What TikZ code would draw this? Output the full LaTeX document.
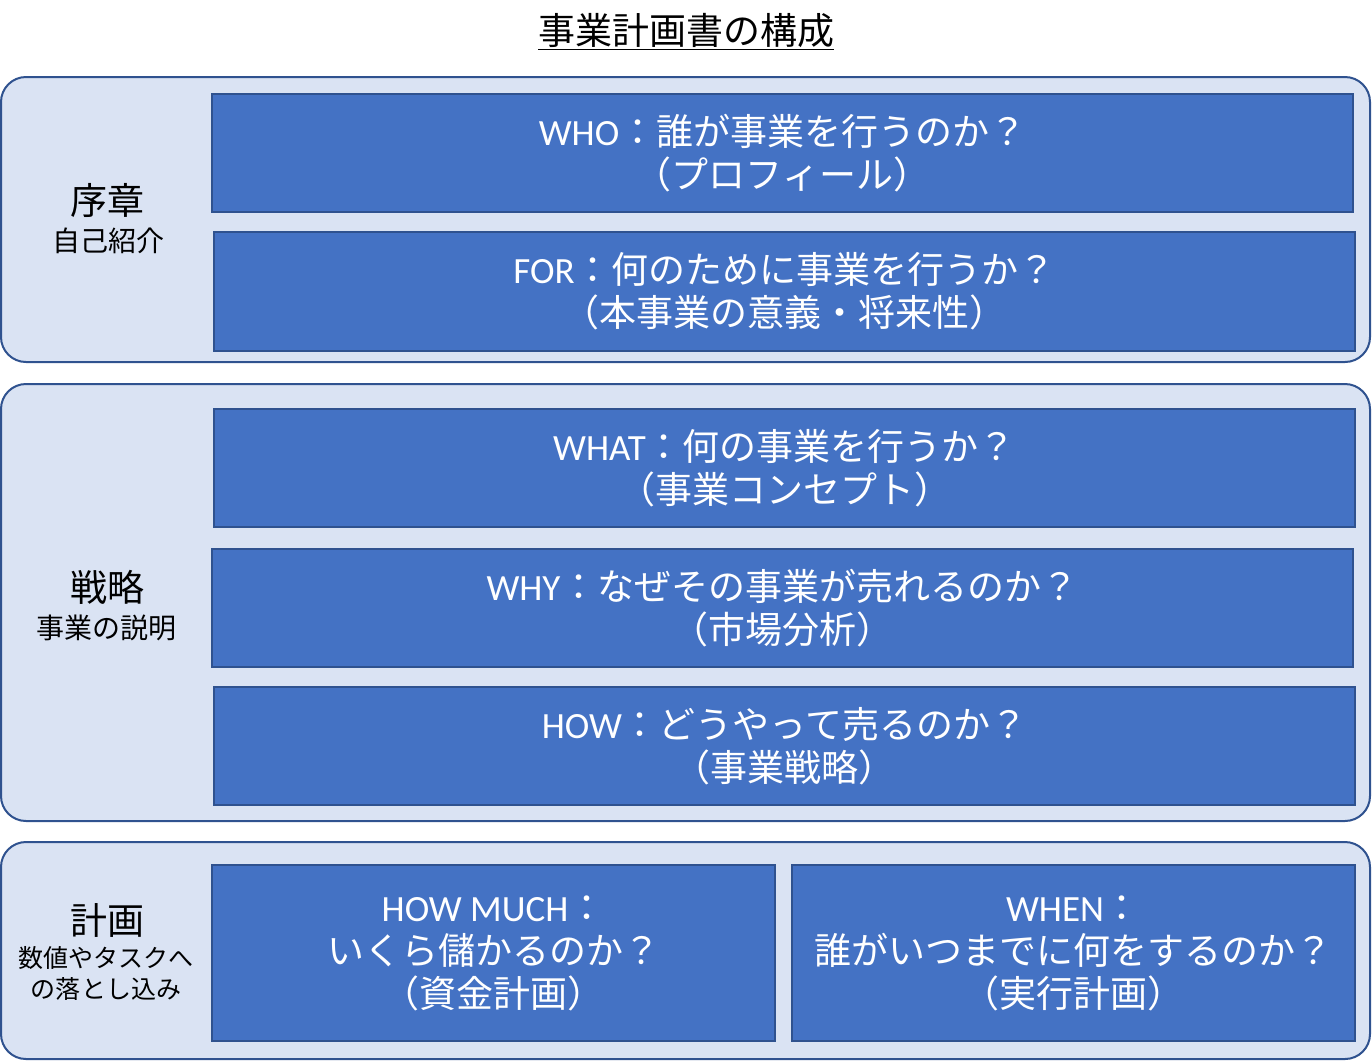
\documentclass[tikz,border=0pt]{standalone}
\usepackage{fontspec}
\setmainfont{Noto Sans CJK JP}
\newfontfamily\latinfont{Carlito}
\newcommand{\en}[1]{{\latinfont #1}}
\definecolor{panelfill}{HTML}{DAE3F3}
\definecolor{boxfill}{HTML}{4472C4}
\definecolor{edgeblue}{HTML}{2F528F}
\tikzset{
  panel/.style={draw=edgeblue, line width=2pt, fill=panelfill, rounded corners=25pt,
    minimum width=1369pt, inner sep=0pt},
  card/.style={draw=edgeblue, line width=2pt, fill=boxfill, inner sep=0pt, align=center,
    text=white, font=\fontsize{37}{43}\selectfont},
  head/.style={font=\fontsize{37}{44}\selectfont, inner sep=0pt},
  sub/.style={font=\fontsize{28}{34}\selectfont, inner sep=0pt, align=center}
}
\begin{document}
\begin{tikzpicture}[x=1pt,y=-1pt]
            \useasboundingbox (0,0) rectangle (1372,1061);
            \node [head] (title) at (686,32) {\underline{事業計画書の構成}};
            \node [panel, minimum height=285pt] (intro) at (685.5,219.5) {};
            \node [panel, minimum height=437pt] (strategy) at (685.5,602.5) {};
            \node [panel, minimum height=217pt] (plan) at (685.5,950.5) {};
            \node [head] (introhead) at (107,200) {序章};
            \node [sub] (introsub) at (108,241) {自己紹介};
            \node [head] (strategyhead) at (107,587) {戦略};
            \node [sub] (strategysub) at (106,628) {事業の説明};
            \node [head] (planhead) at (107,920) {計画};
            \node [sub, font=\fontsize{25}{31}\selectfont] (plansub) at (106,973) {数値やタスクへ\\の落とし込み};
            \node [card, minimum width=1141pt, minimum height=118pt] (who) at (782.5,153) {\en{WHO}：誰が事業を行うのか？\\（プロフィール）};
            \node [card, minimum width=1141pt, minimum height=119pt] (for) at (784.5,291.5) {\en{FOR}：何のために事業を行うか？\\（本事業の意義・将来性）};
            \node [card, minimum width=1141pt, minimum height=118pt] (what) at (784.5,468) {\en{WHAT}：何の事業を行うか？\\（事業コンセプト）};
            \node [card, minimum width=1141pt, minimum height=118pt] (why) at (782.5,608) {\en{WHY}：なぜその事業が売れるのか？\\（市場分析）};
            \node [card, minimum width=1141pt, minimum height=118pt] (how) at (784.5,746) {\en{HOW}：どうやって売るのか？\\（事業戦略）};
            \node [card, minimum width=563pt, minimum height=176pt] (howmuch) at (493.5,953) {\en{HOW MUCH}：\\いくら儲かるのか？\\（資金計画）};
            \node [card, minimum width=563pt, minimum height=176pt] (when) at (1073.5,953) {\en{WHEN}：\\誰がいつまでに何をするのか？\\（実行計画）};
        \end{tikzpicture}
\end{document}
